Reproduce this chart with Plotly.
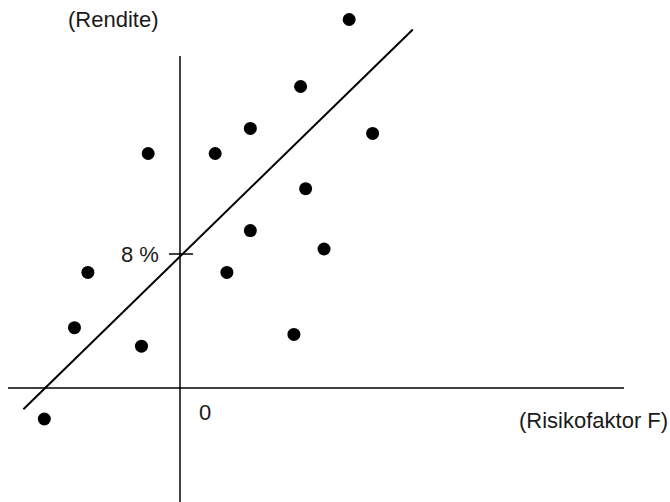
import plotly.graph_objects as go

# Data (risk factor F vs. return, in chart units; y in %)
risk_factor = [10.1, 7.2, 4.2, 11.5, -1.9, 2.1, 7.5, 4.2, 8.6, -5.5, 2.8, -6.3, 6.8, -2.3, -8.1]
rendite = [22.0, 18.0, 15.5, 15.2, 14.0, 14.0, 11.9, 9.4, 8.3, 6.9, 6.9, 3.6, 3.2, 2.5, -1.85]

# Regression line parameters
alpha = 7.85
beta = 0.975
line_x = [-9.35, 13.9]
line_y = [alpha + beta * x for x in line_x]

tick_value = 8
tick_label = "8 %"

W, H = 670, 502
px_per_unit = 16.75
ox, oy = 180, 388  # origin pixel position
x_range = [(0 - ox) / px_per_unit, (W - ox) / px_per_unit]
y_range = [(oy - H) / px_per_unit, oy / px_per_unit]

def dx(px):
    return (px - ox) / px_per_unit

def dy(py):
    return (oy - py) / px_per_unit

fig = go.Figure()

fig.add_trace(go.Scatter(x=line_x, y=line_y, mode="lines",
                         line=dict(color="black", width=2), showlegend=False, hoverinfo="skip"))
fig.add_trace(go.Scatter(x=risk_factor, y=rendite, mode="markers",
                         marker=dict(color="black", size=13), showlegend=False))

shapes = [
    dict(type="line", xref="x", yref="y", x0=dx(8), x1=dx(624), y0=0, y1=0,
         line=dict(color="black", width=1.5)),
    dict(type="line", xref="x", yref="y", x0=0, x1=0, y0=dy(56), y1=y_range[0],
         line=dict(color="black", width=1.5)),
    dict(type="line", xref="x", yref="y", x0=dx(169), x1=dx(193), y0=tick_value, y1=tick_value,
         line=dict(color="black", width=1.5)),
]

font = dict(family="Liberation Sans, Arial, sans-serif", size=22, color="#1a1a1a")
annotations = [
    dict(x=dx(161), y=tick_value, xref="x", yref="y", text=tick_label, showarrow=False,
         xanchor="right", yanchor="middle", font=font),
    dict(x=dx(197), y=dy(412), xref="x", yref="y", text="0", showarrow=False,
         xanchor="left", yanchor="middle", font=font),
    dict(x=dx(66), y=dy(19), xref="x", yref="y", text="(Rendite)", showarrow=False,
         xanchor="left", yanchor="middle", font=font),
    dict(x=dx(670), y=dy(420), xref="x", yref="y", text="(Risikofaktor F)", showarrow=False,
         xanchor="right", yanchor="middle", font=font),
]

fig.update_layout(
    width=W, height=H,
    margin=dict(l=0, r=0, t=0, b=0),
    paper_bgcolor="white", plot_bgcolor="white",
    xaxis=dict(range=x_range, visible=False, fixedrange=True),
    yaxis=dict(range=y_range, visible=False, fixedrange=True),
    shapes=shapes, annotations=annotations,
)

fig.write_html("out.html", config={"displayModeBar": False},
               post_script="document.body.style.margin='0';document.body.style.overflow='hidden';")
